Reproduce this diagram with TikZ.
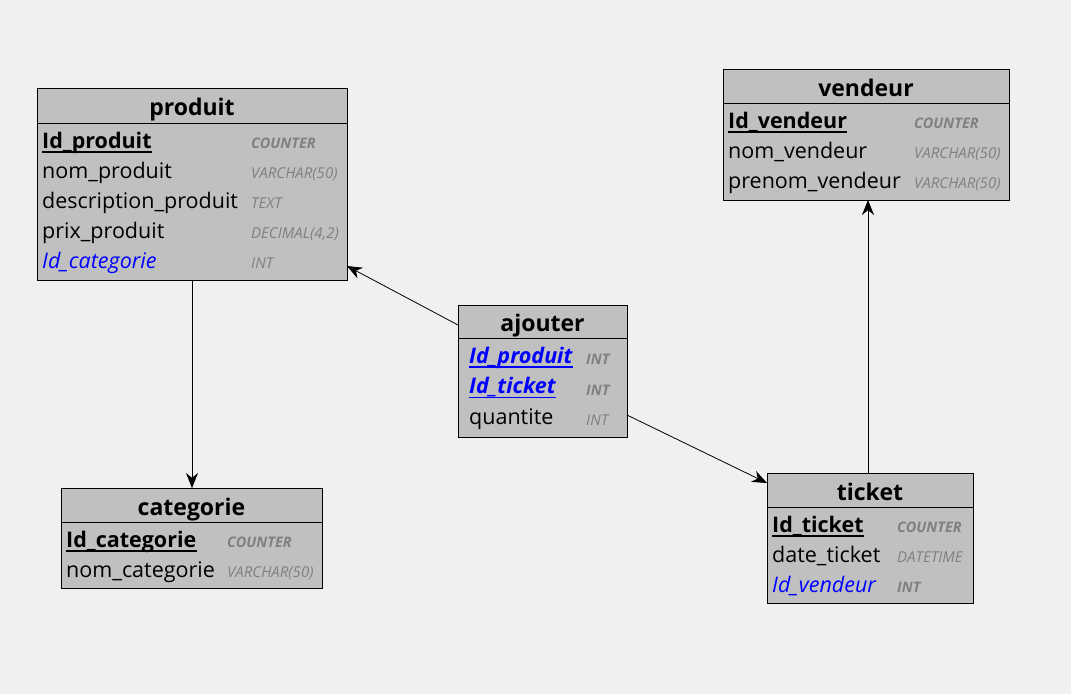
\documentclass[tikz,border=0pt]{standalone}
\usepackage{fontspec}
\setmainfont{Open Sans}
\usetikzlibrary{arrows.meta}
\definecolor{bg}{HTML}{F0F0F0}
\definecolor{boxfill}{HTML}{C0C0C0}
\definecolor{typegray}{HTML}{808080}
\definecolor{fkblue}{HTML}{0000FF}
\begin{document}
\begin{tikzpicture}[x=1pt,y=-1pt,
 box/.style={draw=black, fill=boxfill, line width=1pt, anchor=north west, inner sep=0, outer sep=0},
 ttl/.style={font=\fontsize{23}{26}\selectfont\bfseries, anchor=base, inner sep=0},
 fld/.style={font=\fontsize{21.5}{24}\selectfont, anchor=base west, inner sep=0},
 pk/.style={fld, font=\fontsize{21.5}{24}\selectfont\bfseries},
 fk/.style={fld, font=\fontsize{21.5}{24}\selectfont\itshape, text=fkblue},
 pfk/.style={fld, font=\fontsize{21.5}{24}\selectfont\itshape\bfseries, text=fkblue},
 typ/.style={font=\fontsize{15}{17}\selectfont\itshape, text=typegray, anchor=base west, inner sep=0},
 typb/.style={typ, font=\fontsize{14.5}{17}\selectfont\itshape\bfseries},
 uline/.style={line width=1.3pt},
 rel/.style={draw=black, line width=0.8pt, -{Stealth[length=15pt,width=12pt]}}
]
\fill[bg] (0,0) rectangle (1071,694);
\useasboundingbox (0,0) rectangle (1071,694);

% produit
\node[box, minimum width=310pt, minimum height=35pt] (produit-h) at (37,88) {};
\node[box, minimum width=310pt, minimum height=157pt] (produit) at (37,123) {};
\node[ttl] (produit-t) at (192,115) {produit};
\node[pk] (p1) at (42,148) {Id\_produit};
\node[fld] (p2) at (42,178) {nom\_produit};
\node[fld] (p3) at (42,208) {description\_produit};
\node[fld] (p4) at (42,238) {prix\_produit};
\node[fk] (p5) at (42,268) {Id\_categorie};
\node[typb] (pt1) at (251,148) {COUNTER};
\node[typ] (pt2) at (251,178) {VARCHAR(50)};
\node[typ] (pt3) at (251,208) {TEXT};
\node[typ] (pt4) at (251,238) {DECIMAL(4,2)};
\node[typ] (pt5) at (251,268) {INT};
\draw[uline] ([yshift=-4pt]p1.base west) -- ([yshift=-4pt]p1.base east);

% categorie
\node[box, minimum width=261pt, minimum height=34pt] (categorie-h) at (61,488) {};
\node[box, minimum width=261pt, minimum height=66pt] (categorie) at (61,522) {};
\node[ttl] (categorie-t) at (191.5,515) {categorie};
\node[pk] (c1) at (66,547) {Id\_categorie};
\node[fld] (c2) at (66,577) {nom\_categorie};
\node[typb] (ct1) at (227,547) {COUNTER};
\node[typ] (ct2) at (227,577) {VARCHAR(50)};
\draw[uline] ([yshift=-4pt]c1.base west) -- ([yshift=-4pt]c1.base east);

% vendeur
\node[box, minimum width=286pt, minimum height=34pt] (vendeur-h) at (723,69) {};
\node[box, minimum width=286pt, minimum height=97pt] (vendeur) at (723,103) {};
\node[ttl] (vendeur-t) at (866,96) {vendeur};
\node[pk] (v1) at (728,128) {Id\_vendeur};
\node[fld] (v2) at (728,158) {nom\_vendeur};
\node[fld] (v3) at (728,188) {prenom\_vendeur};
\node[typb] (vt1) at (914,128) {COUNTER};
\node[typ] (vt2) at (914,158) {VARCHAR(50)};
\node[typ] (vt3) at (914,188) {VARCHAR(50)};
\draw[uline] ([yshift=-4pt]v1.base west) -- ([yshift=-4pt]v1.base east);

% ajouter
\node[box, minimum width=169pt, minimum height=33pt] (ajouter-h) at (458,305) {};
\node[box, minimum width=169pt, minimum height=99pt] (ajouter) at (458,338) {};
\node[ttl] (ajouter-t) at (542.5,331.5) {ajouter};
\node[pfk] (a1) at (469,363) {Id\_produit};
\node[pfk] (a2) at (469,393.5) {Id\_ticket};
\node[fld] (a3) at (469,424) {quantite};
\node[typb] (at1) at (586,364) {INT};
\node[typb] (at2) at (586,395) {INT};
\node[typ] (at3) at (586,425) {INT};
\draw[uline, fkblue] ([yshift=-4pt]a1.base west) -- ([yshift=-4pt]a1.base east);
\draw[uline, fkblue] ([yshift=-4pt]a2.base west) -- ([yshift=-4pt]a2.base east);

% ticket
\node[box, minimum width=206pt, minimum height=34pt] (ticket-h) at (767,473) {};
\node[box, minimum width=206pt, minimum height=96pt] (ticket) at (767,507) {};
\node[ttl] (ticket-t) at (870,500) {ticket};
\node[pk] (t1) at (772,532) {Id\_ticket};
\node[fld] (t2) at (772,562) {date\_ticket};
\node[fk] (t3) at (772,592) {Id\_vendeur};
\node[typb] (tt1) at (897,532) {COUNTER};
\node[typ] (tt2) at (897,562) {DATETIME};
\node[typb] (tt3) at (897,592) {INT};
\draw[uline] ([yshift=-4pt]t1.base west) -- ([yshift=-4pt]t1.base east);

% relations
\draw[rel] (produit.south) -- (produit.south |- categorie-h.north);
\draw[rel] ([yshift=-3.5pt]ajouter-h.west) -- ([yshift=-64.5pt]produit.east);
\draw[rel] ([yshift=-27.5pt]ajouter.east) -- ([yshift=7pt]ticket-h.west);
\draw[rel] ([xshift=-2pt]ticket-h.north) -- ([xshift=-2pt]ticket-h.north |- vendeur.south);
\end{tikzpicture}
\end{document}
